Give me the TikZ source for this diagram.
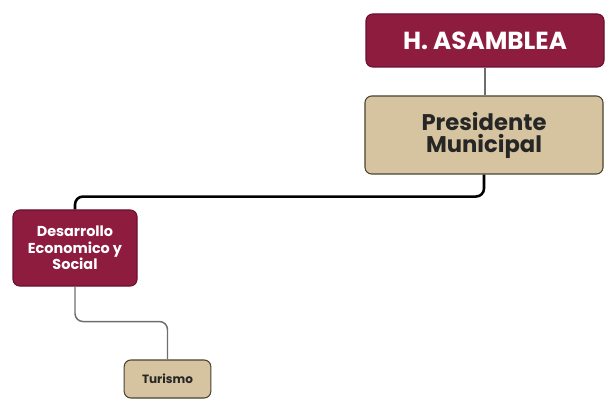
\documentclass[tikz,border=0pt]{standalone}
\usepackage{fontspec}
\setmainfont{Poppins}
\usepackage{xcolor}
\usetikzlibrary{positioning,calc}
\definecolor{vino}{HTML}{8E1C3F}
\definecolor{vinoline}{HTML}{6A1030}
\definecolor{arena}{HTML}{D6C39F}
\definecolor{arenaline}{HTML}{4A4232}
\definecolor{ink}{HTML}{262626}
\definecolor{wire}{HTML}{6E6E6E}
\tikzset{
  redbox/.style={draw=vinoline, fill=vino, rounded corners=5pt, line width=0.8pt,
                 align=center, inner sep=2pt, text=white, font=\bfseries},
  tanbox/.style={draw=arenaline, fill=arena, rounded corners=5pt, line width=0.8pt,
                 align=center, inner sep=2pt, text=ink, font=\bfseries},
  thinlink/.style={draw=wire, line width=1.1pt, rounded corners=6pt},
  boldlink/.style={draw=black, line width=1.9pt, rounded corners=6pt}
}
\begin{document}
\begin{tikzpicture}[x=0.75pt,y=-0.75pt]
    \useasboundingbox (0,0) rectangle (605,402);
    % top of the chart
    \node[redbox, minimum width=178.5pt, minimum height=39.75pt,
          font=\fontsize{18.5}{20}\selectfont\bfseries] (asamblea) at (485,40.5) {H. ASAMBLEA};
    \node[tanbox, minimum width=178.5pt, minimum height=58.5pt,
          font=\fontsize{17}{16.5}\selectfont\bfseries] (presidente) at (484,135) {Presidente\\Municipal};

    % lower branch
    \node[redbox, minimum width=93pt, minimum height=57pt,
          font=\fontsize{10.8}{12.5}\selectfont\bfseries] (desarrollo) at (75,248) {Desarrollo\\Economico y\\Social};
    \node[tanbox, minimum width=65pt, minimum height=28.5pt,
          font=\fontsize{9}{11}\selectfont\bfseries] (turismo) at (167.5,379) {Turismo};

    % connectors
    \draw[thinlink] (asamblea.south) -- (asamblea.south |- presidente.north);
    \draw[boldlink] (presidente.south) -- ++(0,22) -| (desarrollo.north);
    \draw[thinlink] (desarrollo.south) -- ++(0,35) -| (turismo.north);
  \end{tikzpicture}
\end{document}
